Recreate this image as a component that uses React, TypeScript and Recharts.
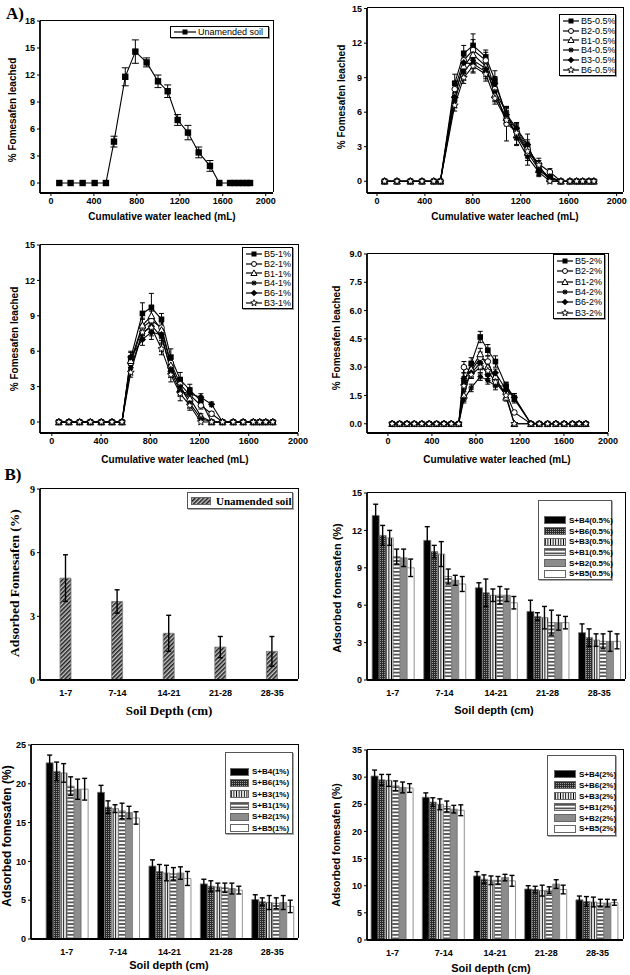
import React from 'react';
import { LineChart, Line, BarChart, Bar, XAxis, YAxis, ErrorBar } from 'recharts';

const SANS = '"Liberation Sans", Arial, sans-serif';
const SERIF = '"Liberation Serif", "Times New Roman", serif';

// ---------- A) leaching curves (cumulative water, mL) ----------
const unamendedX = [78, 183, 295, 407, 512, 587, 692, 786, 891, 997, 1087, 1180, 1276, 1376, 1481, 1568, 1668, 1708, 1749, 1786, 1823, 1854];
const unamendedY = [0, 0, 0, 0, 0, 4.6, 11.8, 14.6, 13.4, 11.3, 10.2, 7.0, 5.6, 3.4, 1.9, 0, 0, 0, 0, 0, 0, 0];
const unamendedErr = [0, 0, 0, 0, 0, 0.6, 1.0, 1.3, 0.5, 0.7, 0.7, 0.6, 0.8, 0.6, 0.6, 0, 0, 0, 0, 0, 0, 0];

const halfX = [64, 167, 279, 376, 474, 529, 649, 724, 802, 908, 984, 1081, 1165, 1257, 1351, 1443, 1535, 1610, 1666, 1716, 1769, 1810];
const halfB5 = [0, 0, 0, 0, 0, 0, 8.5, 11.1, 11.8, 10.8, 8.8, 5.6, 4.5, 3.0, 1.2, 0.3, 0, 0, 0, 0, 0, 0];
const halfB2 = [0, 0, 0, 0, 0, 0, 8.0, 10.5, 11.4, 10.5, 8.0, 5.0, 4.3, 2.8, 1.5, 0.8, 0, 0, 0, 0, 0, 0];
const halfB1 = [0, 0, 0, 0, 0, 0, 7.5, 10.0, 11.0, 10.0, 7.5, 5.5, 4.0, 2.5, 1.0, 0.2, 0, 0, 0, 0, 0, 0];
const halfB4 = [0, 0, 0, 0, 0, 0, 7.0, 9.5, 10.5, 9.8, 7.8, 6.0, 3.8, 2.1, 0.8, 0, 0, 0, 0, 0, 0, 0];
const halfB3 = [0, 0, 0, 0, 0, 0, 7.3, 10.3, 10.2, 9.5, 8.5, 5.8, 4.6, 3.2, 0.9, 0.4, 0, 0, 0, 0, 0, 0];
const halfB6 = [0, 0, 0, 0, 0, 0, 6.6, 9.0, 10.0, 9.3, 7.2, 5.3, 4.2, 2.6, 1.4, 0, 0, 0, 0, 0, 0, 0];
const halfB5e = [0, 0, 0, 0, 0, 0, 0.8, 0.7, 1.0, 0.6, 0.8, 0.7, 0.6, 0.6, 0.4, 0.2, 0, 0, 0, 0, 0, 0];
const halfB2e = [0, 0, 0, 0, 0, 0, 0.7, 0.8, 0.9, 0.7, 0.7, 1.5, 0.7, 0.6, 0.5, 0.3, 0, 0, 0, 0, 0, 0];
const halfB1e = [0, 0, 0, 0, 0, 0, 0.6, 0.6, 0.8, 0.5, 0.6, 0.6, 0.9, 0.7, 0.4, 0.2, 0, 0, 0, 0, 0, 0];
const halfB4e = [0, 0, 0, 0, 0, 0, 0.6, 0.7, 0.7, 0.5, 0.6, 0.5, 0.6, 0.7, 0.3, 0, 0, 0, 0, 0, 0, 0];
const halfB3e = [0, 0, 0, 0, 0, 0, 0.7, 0.5, 0.7, 0.6, 0.6, 0.6, 0.5, 0.9, 0.5, 0.2, 0, 0, 0, 0, 0, 0];
const halfB6e = [0, 0, 0, 0, 0, 0, 0.5, 0.5, 0.6, 0.6, 0.5, 0.5, 0.6, 0.5, 0.4, 0, 0, 0, 0, 0, 0, 0];

const oneX = [57, 139, 226, 313, 402, 489, 570, 641, 736, 809, 891, 967, 1043, 1121, 1211, 1298, 1387, 1474, 1555, 1637, 1689, 1738, 1795];
const oneB5 = [0, 0, 0, 0, 0, 0, 0, 5.4, 9.2, 9.7, 8.7, 5.5, 3.6, 2.7, 1.8, 0, 0, 0, 0, 0, 0, 0, 0];
const oneB2 = [0, 0, 0, 0, 0, 0, 0, 5.0, 8.0, 8.6, 8.0, 5.0, 3.2, 2.3, 1.4, 0.7, 0, 0, 0, 0, 0, 0, 0];
const oneB1 = [0, 0, 0, 0, 0, 0, 0, 5.2, 8.2, 9.0, 7.8, 4.8, 2.8, 2.0, 0.5, 0, 0, 0, 0, 0, 0, 0, 0];
const oneB4 = [0, 0, 0, 0, 0, 0, 0, 4.6, 7.5, 8.2, 7.2, 4.5, 3.0, 1.6, 0.3, 0, 0, 0, 0, 0, 0, 0, 0];
const oneB6 = [0, 0, 0, 0, 0, 0, 0, 5.5, 7.0, 7.6, 7.4, 4.3, 2.6, 2.4, 2.1, 1.5, 0, 0, 0, 0, 0, 0, 0];
const oneB3 = [0, 0, 0, 0, 0, 0, 0, 4.2, 7.6, 8.0, 6.2, 4.0, 2.4, 1.4, 0, 0, 0, 0, 0, 0, 0, 0, 0];
const oneB5e = [0, 0, 0, 0, 0, 0, 0, 0.5, 0.9, 1.2, 0.5, 0.7, 0.6, 0.5, 0.4, 0, 0, 0, 0, 0, 0, 0, 0];
const oneB2e = [0, 0, 0, 0, 0, 0, 0, 0.4, 0.7, 0.8, 0.6, 0.6, 0.5, 0.4, 0.3, 0.2, 0, 0, 0, 0, 0, 0, 0];
const oneB1e = [0, 0, 0, 0, 0, 0, 0, 0.4, 0.6, 0.9, 0.6, 0.6, 0.5, 0.4, 0.2, 0, 0, 0, 0, 0, 0, 0, 0];
const oneB4e = [0, 0, 0, 0, 0, 0, 0, 0.4, 0.6, 0.7, 0.6, 0.5, 0.6, 0.4, 0.2, 0, 0, 0, 0, 0, 0, 0, 0];
const oneB6e = [0, 0, 0, 0, 0, 0, 0, 0.5, 0.5, 0.6, 0.5, 0.5, 0.4, 0.5, 0.3, 0.2, 0, 0, 0, 0, 0, 0, 0];
const oneB3e = [0, 0, 0, 0, 0, 0, 0, 0.4, 0.6, 0.7, 0.5, 0.6, 0.6, 0.4, 0, 0, 0, 0, 0, 0, 0, 0, 0];

const twoX = [39, 106, 173, 240, 308, 375, 442, 509, 576, 643, 691, 757, 839, 908, 977, 1074, 1149, 1300, 1376, 1451, 1526, 1602, 1677, 1738, 1798];
const twoB5 = [0, 0, 0, 0, 0, 0, 0, 0, 0, 0, 2.2, 3.2, 4.6, 3.9, 3.3, 2.0, 1.3, 0, 0, 0, 0, 0, 0, 0, 0];
const twoB2 = [0, 0, 0, 0, 0, 0, 0, 0, 0, 0, 3.0, 2.8, 3.5, 3.3, 2.3, 1.6, 0.6, 0, 0, 0, 0, 0, 0, 0, 0];
const twoB1 = [0, 0, 0, 0, 0, 0, 0, 0, 0, 0, 1.5, 2.9, 3.7, 3.0, 2.5, 1.4, 0, 0, 0, 0, 0, 0, 0, 0, 0];
const twoB4 = [0, 0, 0, 0, 0, 0, 0, 0, 0, 0, 1.3, 1.9, 2.5, 2.3, 2.0, 2.0, 1.4, 0, 0, 0, 0, 0, 0, 0, 0];
const twoB6 = [0, 0, 0, 0, 0, 0, 0, 0, 0, 0, 2.4, 2.7, 3.2, 2.6, 2.7, 1.8, 1.4, 0, 0, 0, 0, 0, 0, 0, 0];
const twoB3 = [0, 0, 0, 0, 0, 0, 0, 0, 0, 0, 2.0, 2.6, 3.0, 2.8, 2.2, 1.5, 0, 0, 0, 0, 0, 0, 0, 0, 0];
const twoB5e = [0, 0, 0, 0, 0, 0, 0, 0, 0, 0, 0.3, 0.3, 0.3, 0.3, 0.3, 0.2, 0.2, 0, 0, 0, 0, 0, 0, 0, 0];
const twoB2e = [0, 0, 0, 0, 0, 0, 0, 0, 0, 0, 0.3, 0.3, 0.3, 0.3, 0.2, 0.2, 0.1, 0, 0, 0, 0, 0, 0, 0, 0];
const twoB1e = [0, 0, 0, 0, 0, 0, 0, 0, 0, 0, 0.3, 0.2, 0.3, 0.3, 0.2, 0.2, 0, 0, 0, 0, 0, 0, 0, 0, 0];
const twoB4e = [0, 0, 0, 0, 0, 0, 0, 0, 0, 0, 0.2, 0.2, 0.2, 0.2, 0.2, 0.2, 0.2, 0, 0, 0, 0, 0, 0, 0, 0];
const twoB6e = [0, 0, 0, 0, 0, 0, 0, 0, 0, 0, 0.3, 0.3, 0.3, 0.2, 0.2, 0.2, 0.2, 0, 0, 0, 0, 0, 0, 0, 0];
const twoB3e = [0, 0, 0, 0, 0, 0, 0, 0, 0, 0, 0.3, 0.2, 0.3, 0.2, 0.2, 0.2, 0, 0, 0, 0, 0, 0, 0, 0, 0];

const waterTicks = [0, 400, 800, 1200, 1600, 2000];

// ---------- B) adsorbed fomesafen by depth ----------
const depthCats = ['1-7', '7-14', '14-21', '21-28', '28-35'];
const soilOnly = [4.8, 3.7, 2.2, 1.55, 1.35];
const soilOnlyErr = [1.1, 0.55, 0.85, 0.5, 0.7];

const sorb05B4 = [13.2, 11.2, 7.4, 5.5, 3.8];
const sorb05B6 = [11.6, 10.3, 7.0, 5.1, 3.4];
const sorb05B3 = [11.4, 10.1, 6.8, 5.0, 3.2];
const sorb05B1 = [9.9, 8.3, 6.8, 4.6, 3.1];
const sorb05B2 = [9.8, 8.0, 6.8, 4.6, 3.1];
const sorb05B5 = [9.0, 7.7, 6.2, 4.6, 3.1];
const sorb05B4e = [0.9, 1.1, 0.4, 0.9, 0.7];
const sorb05B6e = [0.8, 0.5, 1.1, 0.3, 0.7];
const sorb05B3e = [0.6, 1.0, 0.5, 0.9, 0.5];
const sorb05B1e = [0.6, 0.6, 0.7, 1.0, 0.6];
const sorb05B2e = [0.7, 0.4, 0.5, 0.6, 0.8];
const sorb05B5e = [0.7, 0.6, 0.5, 0.5, 0.6];

const sorb1B4 = [22.7, 18.9, 9.4, 7.1, 5.1];
const sorb1B6 = [21.6, 17.0, 8.7, 6.8, 4.8];
const sorb1B3 = [21.4, 16.8, 8.5, 6.7, 4.7];
const sorb1B1 = [19.7, 16.5, 8.4, 6.6, 4.6];
const sorb1B2 = [19.3, 16.3, 8.5, 6.5, 4.7];
const sorb1B5 = [19.3, 15.6, 7.8, 6.3, 4.2];
const sorb1B4e = [1.0, 0.9, 0.8, 0.6, 0.6];
const sorb1B6e = [1.2, 0.8, 0.9, 0.7, 0.5];
const sorb1B3e = [1.2, 0.5, 1.0, 0.5, 0.9];
const sorb1B1e = [1.2, 1.0, 0.8, 0.6, 0.7];
const sorb1B2e = [1.3, 0.8, 0.8, 0.7, 0.9];
const sorb1B5e = [1.4, 0.8, 0.9, 0.5, 0.8];

const sorb2B4 = [30.2, 26.3, 11.8, 9.4, 7.4];
const sorb2B6 = [29.5, 25.4, 11.2, 9.3, 7.1];
const sorb2B3 = [29.4, 25.0, 11.0, 9.1, 7.0];
const sorb2B1 = [28.4, 24.6, 11.0, 9.2, 6.8];
const sorb2B2 = [28.1, 24.1, 11.5, 10.3, 6.8];
const sorb2B5 = [28.0, 23.9, 10.9, 9.3, 6.9];
const sorb2B4e = [1.1, 0.8, 0.8, 0.6, 0.7];
const sorb2B6e = [1.0, 0.8, 0.8, 0.6, 0.9];
const sorb2B3e = [1.1, 1.0, 0.8, 1.0, 0.9];
const sorb2B1e = [0.9, 1.0, 0.7, 0.6, 0.7];
const sorb2B2e = [1.0, 0.7, 0.6, 0.8, 0.7];
const sorb2B5e = [0.8, 1.0, 1.0, 0.8, 0.5];

const fills: Record<string, string> = {
  B4: '#000',
  B6: 'url(#pat-dots)',
  B3: 'url(#pat-vst)',
  B1: 'url(#pat-hst)',
  B2: '#8c8c8c',
  B5: '#fff',
};

const FRAME_W = 1.8;
const FRAME_C = '#000';
const frameLine = { stroke: FRAME_C, strokeWidth: FRAME_W };
const tickFont = { fontSize: 9, fontWeight: 700, fill: '#000', fontFamily: SANS };

function Marker({ shape, cx, cy, s = 2.8 }: any) {
  if (cx == null || cy == null) return null;
  switch (shape) {
    case 'square':
      return <rect x={cx - s} y={cy - s} width={2 * s} height={2 * s} fill="#000" />;
    case 'circle':
      return <circle cx={cx} cy={cy} r={s} fill="#fff" stroke="#000" strokeWidth={1} />;
    case 'triangle':
      return (
        <polygon
          points={`${cx},${cy - s - 0.6} ${cx + s + 0.6},${cy + s} ${cx - s - 0.6},${cy + s}`}
          fill="#fff"
          stroke="#000"
          strokeWidth={1}
        />
      );
    case 'asterisk':
      return (
        <g stroke="#000" strokeWidth={1.2}>
          <line x1={cx - s} y1={cy} x2={cx + s} y2={cy} />
          <line x1={cx} y1={cy - s} x2={cx} y2={cy + s} />
          <line x1={cx - s * 0.75} y1={cy - s * 0.75} x2={cx + s * 0.75} y2={cy + s * 0.75} />
          <line x1={cx - s * 0.75} y1={cy + s * 0.75} x2={cx + s * 0.75} y2={cy - s * 0.75} />
        </g>
      );
    case 'diamond': {
      const d = s + 0.8;
      return <polygon points={`${cx},${cy - d} ${cx + d},${cy} ${cx},${cy + d} ${cx - d},${cy}`} fill="#000" />;
    }
    case 'star': {
      const pts: string[] = [];
      const ro = s + 0.9;
      const ri = ro * 0.45;
      for (let i = 0; i < 10; i++) {
        const r = i % 2 === 0 ? ro : ri;
        const a = -Math.PI / 2 + (i * Math.PI) / 5;
        pts.push(`${cx + r * Math.cos(a)},${cy + r * Math.sin(a)}`);
      }
      return <polygon points={pts.join(' ')} fill="#fff" stroke="#000" strokeWidth={0.9} />;
    }
    default:
      return null;
  }
}

function Patterns() {
  return (
    <svg width={0} height={0} style={{ position: 'absolute' }}>
      <defs>
        <pattern id="pat-hatch" width={3} height={3} patternUnits="userSpaceOnUse" patternTransform="rotate(45)">
          <rect width={3} height={3} fill="#c4c4c4" />
          <rect width={1.5} height={3} fill="#1c1c1c" />
        </pattern>
        <pattern id="pat-dots" width={2} height={2} patternUnits="userSpaceOnUse">
          <rect width={2} height={2} fill="#2a2a2a" />
          <rect width={1} height={1} fill="#9a9a9a" />
        </pattern>
        <pattern id="pat-vst" width={2.6} height={3} patternUnits="userSpaceOnUse">
          <rect width={2.6} height={3} fill="#fff" />
          <rect x={0.8} width={1} height={3} fill="#000" />
        </pattern>
        <pattern id="pat-hst" width={3} height={3.6} patternUnits="userSpaceOnUse">
          <rect width={3} height={3.6} fill="#fff" />
          <rect y={1.2} width={3} height={1.2} fill="#000" />
        </pattern>
      </defs>
    </svg>
  );
}

function Txt({ x, y, text, rotate, font = SANS, size = 10, weight = 700 }: any) {
  return (
    <div
      style={{
        position: 'absolute',
        left: x,
        top: y,
        transform: `translate(-50%, -50%)${rotate ? ' rotate(-90deg)' : ''}`,
        whiteSpace: 'nowrap',
        fontFamily: font,
        fontSize: size,
        fontWeight: weight,
        lineHeight: 1,
        color: '#000',
      }}
    >
      {text}
    </div>
  );
}

// top and right edges of the plot frame (left and bottom come from the axes)
function FrameEdges({ box }: any) {
  const h = FRAME_W / 2;
  return (
    <div
      style={{
        position: 'absolute', left: box.l, top: box.t - h, width: box.r - box.l + h, height: box.b - box.t,
        boxSizing: 'border-box', borderTop: `${FRAME_W}px solid ${FRAME_C}`, borderRight: `${FRAME_W}px solid ${FRAME_C}`,
        pointerEvents: 'none', zIndex: 5,
      }}
    />
  );
}

function LineLegend({ x, y, w, h, rows, rowH, sample = 16, pad = 2 }: any) {
  return (
    <div
      style={{
        position: 'absolute', left: x, top: y, width: w, height: h, boxSizing: 'border-box',
        border: '1px solid #000', boxShadow: '1px 1px 0 #999', background: '#fff',
        paddingTop: pad, paddingLeft: 3, fontFamily: SANS, fontSize: 9, color: '#000',
      }}
    >
      {rows.map((r: any) => (
        <div key={r.label} style={{ display: 'flex', alignItems: 'center', height: rowH, whiteSpace: 'nowrap' }}>
          <svg width={sample} height={8} style={{ flexShrink: 0 }}>
            <line x1={0} y1={4} x2={sample} y2={4} stroke="#000" strokeWidth={1.2} />
            <Marker shape={r.shape} cx={sample / 2} cy={4} s={2.5} />
          </svg>
          <span style={{ marginLeft: 2 }}>{r.label}</span>
        </div>
      ))}
    </div>
  );
}

function BarLegend({ x, y, w, h, rows, rowH, padTop, padLeft, swW, font = SANS, size = 8, gap = 3 }: any) {
  return (
    <div
      style={{
        position: 'absolute', left: x, top: y, width: w, height: h, boxSizing: 'border-box',
        border: '1px solid #555', boxShadow: '1px 1px 0 #aaa', background: '#fff',
        paddingTop: padTop, paddingLeft: padLeft, fontFamily: font, fontSize: size, fontWeight: 700, color: '#000',
      }}
    >
      {rows.map((r: any) => (
        <div key={r.label} style={{ display: 'flex', alignItems: 'center', height: rowH, whiteSpace: 'nowrap' }}>
          <svg width={swW} height={8} style={{ flexShrink: 0 }}>
            <rect x={0.5} y={0.5} width={swW - 1} height={7} fill={r.fill} stroke="#666" strokeWidth={1} />
          </svg>
          <span style={{ marginLeft: gap }}>{r.label}</span>
        </div>
      ))}
    </div>
  );
}

function marginFor(region: any, box: any, yw: number, xh: number) {
  return {
    left: box.l - region.x - yw,
    top: box.t - region.y,
    right: region.x + region.w - box.r,
    bottom: region.y + region.h - box.b - xh,
  };
}

function LinePanel({ region, box, xDomain, yDomain, yTicks, yFmt, xs, series, markerSize = 2.8, capW = 2.5 }: any) {
  const yw = 30;
  const xh = 28;
  const rows = xs.map((x: number, i: number) => {
    const r: any = { x };
    series.forEach((s: any) => {
      r[s.key] = s.values[i];
      r[s.key + 'e'] = s.errs[i];
    });
    return r;
  });
  return (
    <>
      <div style={{ position: 'absolute', left: region.x, top: region.y }}>
        <LineChart width={region.w} height={region.h} data={rows} margin={marginFor(region, box, yw, xh)}>
          <XAxis
            dataKey="x" type="number" domain={xDomain} ticks={waterTicks} interval={0} allowDataOverflow
            height={xh} tick={tickFont} tickSize={3} tickLine={{ stroke: '#000' }} axisLine={frameLine}
          />
          <YAxis
            type="number" domain={yDomain} ticks={yTicks} interval={0} allowDataOverflow width={yw}
            tick={tickFont} tickFormatter={yFmt} tickSize={3} tickLine={{ stroke: '#000' }} axisLine={frameLine}
          />
          {series.map((s: any) => (
            <Line
              key={s.key}
              dataKey={s.key}
              stroke="#000"
              strokeWidth={1.1}
              isAnimationActive={false}
              activeDot={false}
              dot={(p: any) => <Marker key={`${s.key}-${p.index}`} shape={s.shape} cx={p.cx} cy={p.cy} s={markerSize} />}
            >
              <ErrorBar dataKey={`${s.key}e`} width={capW} stroke="#000" strokeWidth={1} direction="y" />
            </Line>
          ))}
        </LineChart>
      </div>
      <FrameEdges box={box} />
    </>
  );
}

function BarPanel({ region, box, yDomain, yTicks, series, yTickFont = tickFont, pad = 0, barSize, catGap = '10%' }: any) {
  const yw = 28;
  const xh = 20;
  const rows = depthCats.map((c, i) => {
    const r: any = { cat: c };
    series.forEach((s: any) => {
      r[s.key] = s.values[i];
      r[s.key + 'e'] = s.errs[i];
    });
    return r;
  });
  return (
    <>
      <div style={{ position: 'absolute', left: region.x, top: region.y }}>
        <BarChart
          width={region.w} height={region.h} data={rows} margin={marginFor(region, box, yw, xh)}
          barCategoryGap={catGap} barGap={0}
        >
          <XAxis
            dataKey="cat" interval={0} height={xh} tick={tickFont} tickLine={false} tickMargin={4}
            axisLine={frameLine} padding={{ left: pad, right: 0 }}
          />
          <YAxis
            type="number" domain={yDomain} ticks={yTicks} interval={0} allowDataOverflow width={yw}
            tick={yTickFont} tickSize={3} tickLine={{ stroke: '#000' }} axisLine={frameLine}
          />
          {series.map((s: any) => (
            <Bar
              key={s.key} dataKey={s.key} fill={s.fill} stroke="#777" strokeWidth={0.8}
              isAnimationActive={false} barSize={barSize}
            >
              <ErrorBar dataKey={`${s.key}e`} width={2.5} stroke="#000" strokeWidth={1.4} direction="y" />
            </Bar>
          ))}
        </BarChart>
      </div>
      <FrameEdges box={box} />
    </>
  );
}

export default function App() {
  const seriesHalf = [
    { key: 'B5', label: 'B5-0.5%', shape: 'square', values: halfB5, errs: halfB5e },
    { key: 'B2', label: 'B2-0.5%', shape: 'circle', values: halfB2, errs: halfB2e },
    { key: 'B1', label: 'B1-0.5%', shape: 'triangle', values: halfB1, errs: halfB1e },
    { key: 'B4', label: 'B4-0.5%', shape: 'asterisk', values: halfB4, errs: halfB4e },
    { key: 'B3', label: 'B3-0.5%', shape: 'diamond', values: halfB3, errs: halfB3e },
    { key: 'B6', label: 'B6-0.5%', shape: 'star', values: halfB6, errs: halfB6e },
  ];
  const seriesOne = [
    { key: 'B5', label: 'B5-1%', shape: 'square', values: oneB5, errs: oneB5e },
    { key: 'B2', label: 'B2-1%', shape: 'circle', values: oneB2, errs: oneB2e },
    { key: 'B1', label: 'B1-1%', shape: 'triangle', values: oneB1, errs: oneB1e },
    { key: 'B4', label: 'B4-1%', shape: 'asterisk', values: oneB4, errs: oneB4e },
    { key: 'B6', label: 'B6-1%', shape: 'diamond', values: oneB6, errs: oneB6e },
    { key: 'B3', label: 'B3-1%', shape: 'star', values: oneB3, errs: oneB3e },
  ];
  const seriesTwo = [
    { key: 'B5', label: 'B5-2%', shape: 'square', values: twoB5, errs: twoB5e },
    { key: 'B2', label: 'B2-2%', shape: 'circle', values: twoB2, errs: twoB2e },
    { key: 'B1', label: 'B1-2%', shape: 'triangle', values: twoB1, errs: twoB1e },
    { key: 'B4', label: 'B4-2%', shape: 'asterisk', values: twoB4, errs: twoB4e },
    { key: 'B6', label: 'B6-2%', shape: 'diamond', values: twoB6, errs: twoB6e },
    { key: 'B3', label: 'B3-2%', shape: 'star', values: twoB3, errs: twoB3e },
  ];
  const bars = (suffix: string, v: any[], e: any[]) =>
    ['B4', 'B6', 'B3', 'B1', 'B2', 'B5'].map((k, i) => ({
      key: k, label: `S+${k}(${suffix})`, fill: fills[k], values: v[i], errs: e[i],
    }));
  const bars05 = bars('0.5%', [sorb05B4, sorb05B6, sorb05B3, sorb05B1, sorb05B2, sorb05B5], [sorb05B4e, sorb05B6e, sorb05B3e, sorb05B1e, sorb05B2e, sorb05B5e]);
  const bars1 = bars('1%', [sorb1B4, sorb1B6, sorb1B3, sorb1B1, sorb1B2, sorb1B5], [sorb1B4e, sorb1B6e, sorb1B3e, sorb1B1e, sorb1B2e, sorb1B5e]);
  const bars2 = bars('2%', [sorb2B4, sorb2B6, sorb2B3, sorb2B1, sorb2B2, sorb2B5], [sorb2B4e, sorb2B6e, sorb2B3e, sorb2B1e, sorb2B2e, sorb2B5e]);

  const leachTitle = 'Cumulative water leached (mL)';
  const leachY = '% Fomesafen leached';
  const t3 = [0, 3, 6, 9, 12, 15];

  return (
    <div style={{ position: 'absolute', left: 0, top: 0, width: 630, height: 975, background: '#fff', overflow: 'hidden' }}>
      <Patterns />

      <Txt x={15} y={13} text="A)" font={SERIF} size={17} />
      <Txt x={13} y={474} text="B)" font={SERIF} size={17} />

      {/* A1: unamended soil */}
      <LinePanel
        region={{ x: 0, y: 0, w: 310, h: 226 }} box={{ l: 40, t: 21, r: 273, b: 193 }}
        xDomain={[-102, 2068]} yDomain={[-1.11, 18]} yTicks={[0, 3, 6, 9, 12, 15, 18]}
        xs={unamendedX}
        series={[{ key: 'U', label: 'Unamended soil', shape: 'square', values: unamendedY, errs: unamendedErr }]}
        markerSize={3.2} capW={3.5}
      />
      <LineLegend x={170} y={26} w={99} h={12} rowH={10} sample={22} pad={0} rows={[{ shape: 'square', label: 'Unamended soil' }]} />
      <Txt x={162} y={217} text={leachTitle} />
      <Txt x={13} y={110} text={leachY} rotate />

      {/* A2: 0.5 % */}
      <LinePanel
        region={{ x: 320, y: 0, w: 310, h: 226 }} box={{ l: 367, t: 8, r: 623, b: 193 }}
        xDomain={[-83, 2053]} yDomain={[-1.02, 15.05]} yTicks={t3}
        xs={halfX} series={seriesHalf}
      />
      <LineLegend x={559} y={14} w={57} h={62} rowH={9.8} rows={seriesHalf} pad={1} />
      <Txt x={505} y={217} text={leachTitle} />
      <Txt x={342} y={97} text={leachY} rotate />

      {/* A3: 1 % */}
      <LinePanel
        region={{ x: 0, y: 232, w: 310, h: 226 }} box={{ l: 40, t: 245, r: 298, b: 433 }}
        xDomain={[-96, 2000]} yDomain={[-0.93, 15]} yTicks={t3}
        xs={oneX} series={seriesOne}
      />
      <LineLegend x={242} y={247} w={51} h={62} rowH={9.8} rows={seriesOne} pad={1} />
      <Txt x={175} y={460} text={leachTitle} />
      <Txt x={15} y={339} text={leachY} rotate />

      {/* A4: 2 % */}
      <LinePanel
        region={{ x: 320, y: 232, w: 310, h: 226 }} box={{ l: 367, t: 254, r: 608, b: 433 }}
        xDomain={[-190, 2000]} yDomain={[-0.49, 9]} yTicks={[0, 1.5, 3, 4.5, 6, 7.5, 9]}
        yFmt={(v: number) => v.toFixed(1)}
        xs={twoX} series={seriesTwo}
      />
      <LineLegend x={553} y={254} w={52} h={65} rowH={10.3} rows={seriesTwo} pad={1} />
      <Txt x={497} y={460} text={leachTitle} />
      <Txt x={337} y={338} text={leachY} rotate />

      {/* B1: unamended soil */}
      <BarPanel
        region={{ x: 0, y: 480, w: 310, h: 222 }} box={{ l: 40, t: 489, r: 298, b: 680 }}
        yDomain={[0, 9]} yTicks={[0, 3, 6, 9]} barSize={11}
        yTickFont={{ ...tickFont, fontFamily: SERIF, fontSize: 10 }}
        series={[{ key: 'S', label: 'Unamended soil', fill: 'url(#pat-hatch)', values: soilOnly, errs: soilOnlyErr }]}
      />
      <BarLegend
        x={187} y={492} w={106} h={17} rowH={15} padTop={0} padLeft={3} swW={20} gap={5}
        font={SERIF} size={11} rows={[{ fill: 'url(#pat-hatch)', label: 'Unamended soil' }]}
      />
      <Txt x={169} y={710} text="Soil Depth (cm)" font={SERIF} size={13} />
      <Txt x={15} y={583} text="Adsorbed Fomesafen (%)" font={SERIF} size={13.5} rotate />

      {/* B2: 0.5 % */}
      <BarPanel
        region={{ x: 320, y: 480, w: 310, h: 222 }} box={{ l: 367, t: 493, r: 625, b: 680 }}
        yDomain={[0, 15]} yTicks={t3} series={bars05}
      />
      <BarLegend x={538} y={500} w={74} h={80} rowH={10.7} padTop={14} padLeft={5} swW={22} rows={bars05} size={8} />
      <Txt x={494} y={710} text="Soil depth (cm)" size={11} />
      <Txt x={337} y={588} text="Adsorbed fomesafen (%)" size={11} rotate />

      {/* B3: 1 % */}
      <BarPanel
        region={{ x: 0, y: 735, w: 310, h: 225 }} box={{ l: 31, t: 745, r: 298, b: 939 }}
        yDomain={[0, 25]} yTicks={[0, 5, 10, 15, 20, 25]} series={bars1} pad={10}
      />
      <BarLegend x={225} y={752} w={68} h={82} rowH={11.3} padTop={13} padLeft={4} swW={19} rows={bars1} size={8} />
      <Txt x={169} y={965} text="Soil depth (cm)" size={11} />
      <Txt x={7} y={836} text="Adsorbed fomesafen (%)" size={12} rotate />

      {/* B4: 2 % */}
      <BarPanel
        region={{ x: 320, y: 735, w: 310, h: 225 }} box={{ l: 367, t: 750, r: 623, b: 940 }}
        yDomain={[0, 35]} yTicks={[0, 5, 10, 15, 20, 25, 30, 35]} series={bars2} catGap="8%"
      />
      <BarLegend x={547} y={755} w={69} h={81} rowH={10.9} padTop={13} padLeft={6} swW={22} rows={bars2} size={8} />
      <Txt x={491} y={968} text="Soil depth (cm)" size={11} />
      <Txt x={336} y={845} text="Adsorbed fomesafen (%)" size={10.5} rotate />
    </div>
  );
}
